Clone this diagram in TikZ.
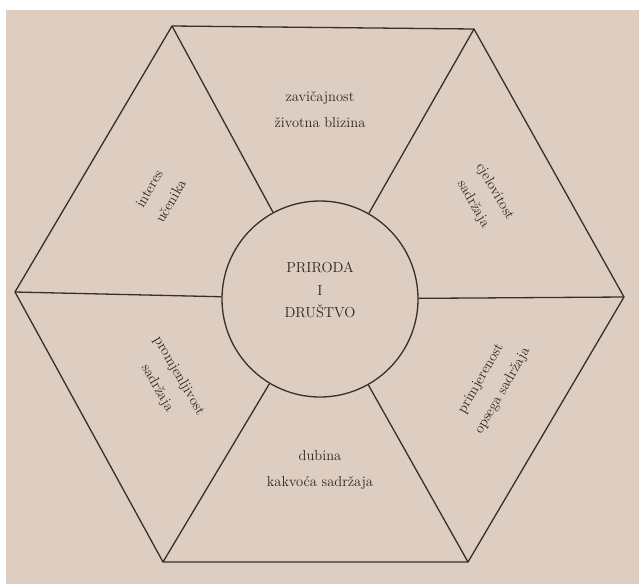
\documentclass[tikz,border=0pt]{standalone}
\usepackage{fontspec}
\definecolor{bg}{RGB}{222,205,193}
\definecolor{ink}{RGB}{58,46,42}
\definecolor{txt}{RGB}{45,36,33}
\begin{document}
\begin{tikzpicture}[x=1pt,y=-1pt,
  edge/.style={draw=ink, line width=1.3pt, line join=round},
  lbl/.style={text=txt, font=\fontsize{14.5}{25}\selectfont, align=center, inner sep=0pt},
  clbl/.style={text=txt, font=\fontsize{14.5}{22.5}\selectfont, align=center, inner sep=0pt}]
\useasboundingbox (0,0) rectangle (639,584);
\fill[white] (0,0) rectangle (639,584);
\fill[bg] (6,10) rectangle (639,584);
% hexagon vertices
\coordinate (L) at (15,292);
\coordinate (TL) at (172,26);
\coordinate (TR) at (474,29);
\coordinate (R) at (624,297);
\coordinate (BR) at (468,562);
\coordinate (BL) at (163,562);
\draw[edge] (L) -- (TL) -- (TR) -- (R) -- (BR) -- (BL) -- cycle;
% centre circle
\node[circle, edge, minimum size=196pt, inner sep=0pt] (c) at (320,299) {};
\node[clbl] (ct) at (320,290) {PRIRODA\\I\\DRUŠTVO};
% spokes
\draw[edge] (L) -- (c);
\draw[edge] (TL) -- (c);
\draw[edge] (TR) -- (c);
\draw[edge] (R) -- (c);
\draw[edge] (BR) -- (c);
\draw[edge] (BL) -- (c);
% petal labels
\node[lbl, font=\fontsize{14.5}{26}\selectfont] (p1) at (320,110) {zavičajnost\\životna blizina};
\node[lbl, rotate=-60] (p2) at (484,198) {cjelovitost\\sadržaja};
\node[lbl, rotate=60] (p3) at (492,385) {primjerenost\\opsega sadržaja};
\node[lbl, font=\fontsize{14.5}{26}\selectfont] (p4) at (320,470) {dubina\\kakvoća sadržaja};
\node[lbl, rotate=-60] (p5) at (168,382) {promjenljivost\\sadržaja};
\node[lbl, rotate=60] (p6) at (160,195) {interes\\učenika};
\end{tikzpicture}
\end{document}
